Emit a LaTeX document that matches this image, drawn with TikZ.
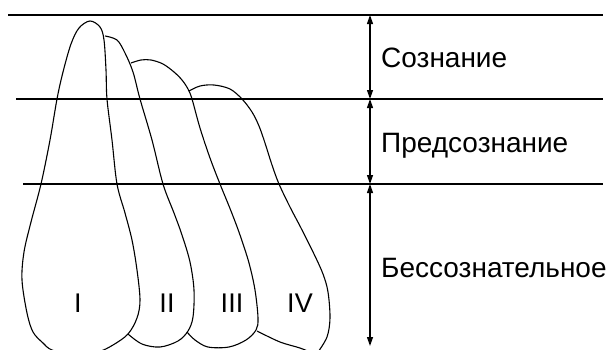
\documentclass[tikz,border=0pt]{standalone}
\usepackage{fontspec}
\setmainfont{Liberation Sans}
\usetikzlibrary{arrows.meta}
\begin{document}
\begin{tikzpicture}[x=1pt,y=-1pt,
  level/.style={line width=1.3pt},
  blob/.style={line width=1.1pt},
  dim/.style={line width=1.2pt,{Triangle[length=9pt,width=6pt]}-{Triangle[length=9pt,width=6pt]}},
  lbl/.style={anchor=base west,inner sep=0pt,font=\fontsize{28}{32}\selectfont},
  num/.style={anchor=base,inner sep=0pt,font=\fontsize{27}{31}\selectfont}]
\useasboundingbox (0,0) rectangle (606,349);
\clip (0,0) rectangle (606,349);
% levels
\coordinate (l1a) at (8,15);   \coordinate (l1b) at (603,15);
\coordinate (l2a) at (16,99);  \coordinate (l2b) at (603,99);
\coordinate (l3a) at (23,184); \coordinate (l3b) at (603,184);
\draw[level] (l1a) -- (l1b);
\draw[level] (l2a) -- (l2b);
\draw[level] (l3a) -- (l3b);
% dimension arrows
\coordinate (a0) at (370,15);
\coordinate (a1) at (370,99);
\coordinate (a2) at (370,184);
\coordinate (a3) at (370,346);
\draw[dim] (a0) -- (a1);
\draw[dim] (a1) -- (a2);
\draw[dim] (a2) -- (a3);
% labels
\node[lbl] (cons) at (381,67) {Сознание};
\node[lbl] (pre) at (381,152) {Предсознание};
\node[lbl] (uncons) at (381,277) {Бессознательное};
% shape I
\draw[blob] plot[smooth cycle,tension=0.55] coordinates {
 (90,21) (100,27) (104,40) (106,70) (107,99) (112,140) (117,184) (125,213)
 (132,240) (137,270) (140,300) (137,318) (128,334) (113,345) (98,352) (75,356)
 (52,350) (43,343) (33,332) (27,313) (22,280) (24,252) (31,222) (41,184)
 (50,140) (57,99) (63,72) (71,44) (79,28)};
% shape II
\draw[blob] plot[smooth,tension=0.55] coordinates {
 (105,36) (117,40) (125,53) (133,72) (140,99) (152,140) (163,184) (174,213)
 (182,235) (190,262) (194,290) (193,317) (188,331) (178,341) (160,347) (142,344) (128,334)};
% shape III
\draw[blob] plot[smooth,tension=0.55] coordinates {
 (131,63) (141,60) (151,60) (163,64) (174,72) (182,80) (188,89) (192,99)
 (200,128) (210,158) (220,184) (231,211) (240,235) (249,263) (255,290) (258,318)
 (256,330) (246,340) (229,347) (208,347) (195,340) (187,332)};
% shape IV
\draw[blob] plot[smooth,tension=0.55] coordinates {
 (189,91) (200,86) (214,85) (230,89) (242,99) (252,112) (259,126) (265,143)
 (272,165) (279,184) (290,207) (301,228) (314,254) (323,274) (328,292) (330,318)
 (327,337) (318,352)};
\draw[blob] plot[smooth,tension=0.55] coordinates {
 (257,331) (280,342) (300,348) (312,353)};
% numerals
\node[num] (n1) at (78,312) {I};
\node[num] (n2) at (167,312) {II};
\node[num] (n3) at (232,312) {III};
\node[num] (n4) at (300,312) {IV};
\end{tikzpicture}
\end{document}
